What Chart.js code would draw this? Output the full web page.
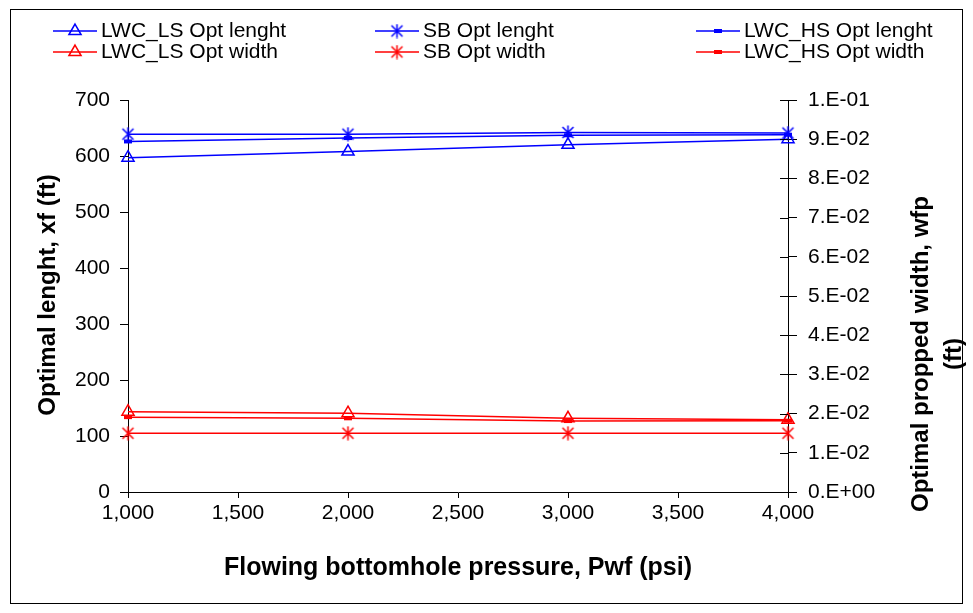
<!DOCTYPE html>
<html>
<head>
<meta charset="utf-8">
<script src="https://cdn.jsdelivr.net/npm/chart.js@4.4.0/dist/chart.umd.min.js"></script>
<style>
  body { margin: 0; background: #fff; }
  #wrap { width: 973px; height: 613px; }
</style>
</head>
<body>
<div id="wrap"><canvas id="chart" width="973" height="613"></canvas></div>
<script>
const pwf = [1000, 2000, 3000, 4000];
const lsLength = [597, 608, 620, 630];
const sbLength = [639, 639, 642, 641];
const hsLength = [626, 632, 637, 638];
const lsWidth = [0.0205, 0.0201, 0.0188, 0.0184];
const sbWidth = [0.0150, 0.0150, 0.0150, 0.0150];
const hsWidth = [0.0191, 0.0188, 0.0181, 0.0182];

const FONT = '"Liberation Sans", Arial, sans-serif';
const BLUE = "#0000FF";
const RED = "#FF0000";

function pts(values) {
    return pwf.map((x, i) => ({ x: x, y: values[i] }));
}

// Excel style asterisk: an X with a vertical bar
function asterisk(color) {
    const c = document.createElement("canvas");
    c.width = 15;
    c.height = 15;
    const g = c.getContext("2d");
    g.strokeStyle = color;
    g.lineWidth = 1.5;
    g.beginPath();
    g.moveTo(2, 2); g.lineTo(13, 13);
    g.moveTo(13, 2); g.lineTo(2, 13);
    g.moveTo(7.5, 0.5); g.lineTo(7.5, 14.5);
    g.stroke();
    return c;
}

function series(label, values, color, style, axis) {
    const radius = style === "line" ? 4 : 7;
    return {
        label: label,
        data: pts(values),
        yAxisID: axis,
        clip: false,
        borderColor: color,
        backgroundColor: color,
        borderWidth: 1.5,
        tension: 0,
        pointStyle: style === "asterisk" ? asterisk(color) : style,
        pointRadius: radius,
        pointHoverRadius: radius,
        pointBorderColor: color,
        pointBackgroundColor: "rgba(0,0,0,0)",
        pointBorderWidth: style === "line" ? 4 : 1.5
    };
}

function sci(value) {
    if (Math.abs(value) < 1e-12) return "0.E+00";
    let exp = Math.floor(Math.log10(value) + 1e-9);
    let m = Math.round(value / Math.pow(10, exp));
    if (m >= 10) { m = 1; exp += 1; }
    const sign = exp < 0 ? "-" : "+";
    return `${m}.E${sign}${String(Math.abs(exp)).padStart(2, "0")}`;
}

// legend, axis titles, frame, inner half of right ticks
const decorations = {
    id: "decorations",
    afterDraw(chart) {
        const ctx = chart.ctx;
        ctx.save();

        ctx.strokeStyle = "#000";
        ctx.lineWidth = 1;
        ctx.strokeRect(10.5, 9.5, 952, 594);

        const y1 = chart.scales.y1;
        ctx.beginPath();
        y1.ticks.forEach(t => {
            const py = Math.round(y1.getPixelForValue(t.value)) + 0.5;
            ctx.moveTo(y1.left - 8, py);
            ctx.lineTo(y1.left, py);
        });
        ctx.stroke();

        ctx.fillStyle = "#000";
        ctx.textAlign = "center";
        ctx.textBaseline = "middle";
        ctx.font = `bold 25px ${FONT}`;
        ctx.fillText("Flowing bottomhole pressure, Pwf (psi)", 458, 568);

        ctx.font = `bold 24px ${FONT}`;
        ctx.save();
        ctx.translate(48, 295);
        ctx.rotate(-Math.PI / 2);
        ctx.fillText("Optimal lenght, xf (ft)", 0, 0);
        ctx.restore();

        ctx.save();
        ctx.translate(921, 354);
        ctx.rotate(-Math.PI / 2);
        ctx.fillText("Optimal propped width, wfp", 0, 0);
        ctx.fillText("(ft)", 0, 33);
        ctx.restore();

        const cols = [53, 375, 696];
        const rows = [31, 52];
        ctx.font = `21px ${FONT}`;
        ctx.textAlign = "left";
        chart.data.datasets.forEach((ds, i) => {
            const x0 = cols[i % 3];
            const y0 = rows[Math.floor(i / 3)];
            ctx.strokeStyle = ds.borderColor;
            ctx.lineWidth = 1.5;
            ctx.beginPath();
            ctx.moveTo(x0, y0);
            ctx.lineTo(x0 + 44, y0);
            ctx.stroke();
            ctx.fillStyle = "rgba(0,0,0,0)";
            ctx.lineWidth = ds.pointBorderWidth;
            Chart.helpers.drawPoint(ctx, {
                pointStyle: ds.pointStyle,
                radius: ds.pointRadius,
                rotation: 0,
                borderWidth: ds.pointBorderWidth
            }, x0 + 22, y0);
            ctx.fillStyle = "#000";
            ctx.fillText(ds.label, x0 + 48, y0);
        });

        ctx.restore();
    }
};

const tickFont = { family: FONT, size: 21 };

new Chart(document.getElementById("chart"), {
    type: "line",
    data: {
        datasets: [
            series("LWC_LS Opt lenght", lsLength, BLUE, "triangle", "y"),
            series("SB Opt lenght", sbLength, BLUE, "asterisk", "y"),
            series("LWC_HS Opt lenght", hsLength, BLUE, "line", "y"),
            series("LWC_LS Opt width", lsWidth, RED, "triangle", "y1"),
            series("SB Opt width", sbWidth, RED, "asterisk", "y1"),
            series("LWC_HS Opt width", hsWidth, RED, "line", "y1")
        ]
    },
    options: {
        responsive: false,
        animation: false,
        layout: { padding: { left: 10, right: 10, top: 100, bottom: 10 } },
        plugins: {
            legend: { display: false },
            tooltip: { enabled: false }
        },
        scales: {
            x: {
                type: "linear",
                min: 1000,
                max: 4000,
                ticks: { stepSize: 500, color: "#000", font: tickFont, padding: 3, maxRotation: 0 },
                grid: { drawOnChartArea: false, tickLength: 6, color: "#000" },
                border: { color: "#000", width: 1 },
                afterFit: s => { s.height = 111; }
            },
            y: {
                position: "left",
                min: 0,
                max: 700,
                ticks: { stepSize: 100, color: "#000", font: tickFont, padding: 10 },
                grid: { drawOnChartArea: false, tickLength: 8, color: "#000" },
                border: { color: "#000", width: 1 },
                afterFit: s => { s.width = 118; }
            },
            y1: {
                position: "right",
                min: 0,
                max: 0.1,
                ticks: { stepSize: 0.01, color: "#000", font: tickFont, padding: 11, callback: sci },
                grid: { drawOnChartArea: false, tickLength: 9, color: "#000" },
                border: { color: "#000", width: 1 },
                afterFit: s => { s.width = 175; }
            }
        }
    },
    plugins: [decorations]
});
</script>
</body>
</html>
